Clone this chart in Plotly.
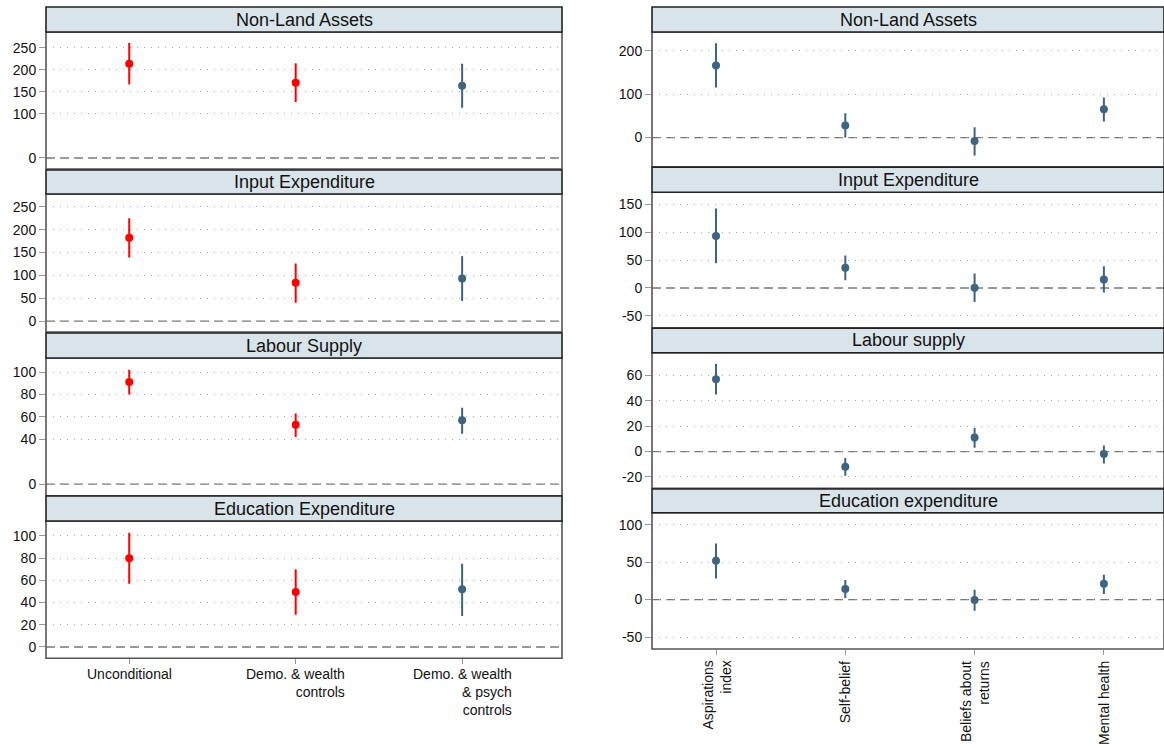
import plotly.graph_objects as go

# ---------------- data ----------------
left_categories = ["Unconditional", "Demo. & wealth<br>controls", "Demo. & wealth<br>& psych<br>controls"]
right_categories = ["Aspirations<br>index", "Self-belief", "Beliefs about<br>returns", "Mental health"]

left_titles = ["Non-Land Assets", "Input Expenditure", "Labour Supply", "Education Expenditure"]
right_titles = ["Non-Land Assets", "Input Expenditure", "Labour supply", "Education expenditure"]

# Left: estimates and 95% CI (Unconditional, Demo & wealth, Demo & wealth & psych)
left_nonland_est = [214, 171, 164]
left_nonland_lo = [167, 127, 114]
left_nonland_hi = [261, 215, 214]
left_input_est = [182, 84, 93]
left_input_lo = [139, 40, 44]
left_input_hi = [225, 126, 142]
left_labour_est = [91, 53, 57]
left_labour_lo = [80, 42, 45]
left_labour_hi = [102, 63, 68]
left_educ_est = [80, 49.5, 52]
left_educ_lo = [57, 29, 28]
left_educ_hi = [103, 70, 75]

# Right: estimates and 95% CI (Aspirations, Self-belief, Beliefs about returns, Mental health)
right_nonland_est = [166, 28, -8, 65]
right_nonland_lo = [115, 0, -41, 37]
right_nonland_hi = [217, 56, 24, 92]
right_input_est = [93, 36, 0.5, 15]
right_input_lo = [44, 14, -25, -8]
right_input_hi = [142, 58, 26, 39]
right_labour_est = [57, -12, 11, -2]
right_labour_lo = [45, -19, 3, -9.4]
right_labour_hi = [69, -5, 18.5, 4.7]
right_educ_est = [52, 14, -0.5, 21]
right_educ_lo = [28, 2, -15, 7.6]
right_educ_hi = [75, 26, 13, 33]

left_ticks = [[0, 100, 150, 200, 250], [0, 50, 100, 150, 200, 250], [0, 40, 60, 80, 100], [0, 20, 40, 60, 80, 100]]
right_ticks = [[0, 100, 200], [-50, 0, 50, 100, 150], [-20, 0, 20, 40, 60], [-50, 0, 50, 100]]

# ---------------- styling / layout ----------------
W, H = 1164, 750
RED = "#ff0000"
BLUE = "#3d6480"
STRIP_FILL = "#d9e4ea"
FONT = "Liberation Sans, Arial, sans-serif"

left_x_px = (46, 562)
right_x_px = (652, 1164)
left_plot_px = [(32, 169), (194, 332), (358, 495.7), (521, 658.3)]
left_strip_px = [(7, 32), (170, 194), (333, 358), (496, 521)]
right_plot_px = [(32, 166.7), (192.3, 327.7), (352.7, 488.3), (512.7, 649)]
right_strip_px = [(7, 32), (167.3, 192.3), (328.3, 352.7), (489, 512.7)]
left_yrange = [[-25, 286], [-24, 278], [-10.4, 112.5], [-10.2, 113.5]]
right_yrange = [[-67, 243], [-71, 171], [-29, 78], [-66, 116]]


def yd(p):
    return [1 - p[1] / H, 1 - p[0] / H]


fig = go.Figure()
layout = dict(width=W, height=H, margin=dict(l=0, r=0, t=0, b=0),
              paper_bgcolor="white", plot_bgcolor="white", showlegend=False,
              font=dict(family=FONT, size=14, color="#111"))
shapes = []
annotations = []

left_data = [(left_nonland_est, left_nonland_lo, left_nonland_hi),
             (left_input_est, left_input_lo, left_input_hi),
             (left_labour_est, left_labour_lo, left_labour_hi),
             (left_educ_est, left_educ_lo, left_educ_hi)]
right_data = [(right_nonland_est, right_nonland_lo, right_nonland_hi),
              (right_input_est, right_input_lo, right_input_hi),
              (right_labour_est, right_labour_lo, right_labour_hi),
              (right_educ_est, right_educ_lo, right_educ_hi)]


def add_panel(idx, est, lo, hi, colors, xpx, ppx, spx, yr, ticks, title, xrange, is_bottom):
    xa = "x" if idx == 1 else f"x{idx}"
    ya = "y" if idx == 1 else f"y{idx}"
    xs = list(range(1, len(est) + 1))
    for col in sorted(set(colors)):
        ii = [i for i, c in enumerate(colors) if c == col]
        fig.add_trace(go.Scatter(
            x=[xs[i] for i in ii], y=[est[i] for i in ii], mode="markers",
            marker=dict(color=col, size=8),
            error_y=dict(type="data", symmetric=False,
                         array=[hi[i] - est[i] for i in ii],
                         arrayminus=[est[i] - lo[i] for i in ii],
                         color=col, thickness=2, width=0),
            xaxis=xa, yaxis=ya, hoverinfo="skip"))
    layout[("xaxis" if idx == 1 else f"xaxis{idx}")] = dict(
        domain=[xpx[0] / W, xpx[1] / W], range=xrange, anchor=ya,
        tickvals=xs, showticklabels=False, showgrid=False, zeroline=False,
        ticks="outside" if is_bottom else "", ticklen=5, tickcolor="#999",
        showline=False, fixedrange=True)
    layout[("yaxis" if idx == 1 else f"yaxis{idx}")] = dict(
        domain=yd(ppx), range=yr, anchor=xa, tickvals=ticks,
        ticktext=[str(t) for t in ticks],
        ticks="outside", ticklen=6, tickcolor="#999", tickwidth=1,
        showgrid=True, gridcolor="#a8a8a8", griddash="1px,6px", gridwidth=1,
        zeroline=False, showline=False, tickfont=dict(size=14, family=FONT, color="#111"),
        fixedrange=True)
    shapes.append(dict(type="line", xref=f"{xa} domain", yref=ya, x0=0, x1=1, y0=0, y1=0,
                       line=dict(color="#777", width=1.3, dash="9px,5px"), layer="below"))
    shapes.append(dict(type="rect", xref="paper", yref="paper",
                       x0=xpx[0] / W, x1=xpx[1] / W, y0=yd(ppx)[0], y1=yd(ppx)[1],
                       line=dict(color="#555", width=1.6), layer="above"))
    shapes.append(dict(type="rect", xref="paper", yref="paper",
                       x0=xpx[0] / W, x1=xpx[1] / W, y0=yd(spx)[0], y1=yd(spx)[1],
                       fillcolor=STRIP_FILL, line=dict(color="#222", width=1.6), layer="above"))
    annotations.append(dict(text=title, xref="paper", yref="paper",
                            x=(xpx[0] + xpx[1]) / 2 / W, y=1 - (spx[0] + spx[1]) / 2 / H,
                            xanchor="center", yanchor="middle", showarrow=False,
                            font=dict(size=18, family=FONT, color="#111")))
    return xa


for k in range(4):
    est, lo, hi = left_data[k]
    xa = add_panel(k + 1, est, lo, hi, [RED, RED, BLUE], left_x_px, left_plot_px[k],
                   left_strip_px[k], left_yrange[k], left_ticks[k], left_titles[k],
                   [0.5, 3.6], k == 3)
    if k == 3:
        for i, lab in enumerate(left_categories):
            annotations.append(dict(text=lab, xref=xa, yref="paper", x=i + 1,
                                    y=1 - 664 / H, xanchor="center", yanchor="top",
                                    align="right", showarrow=False,
                                    font=dict(size=14, family=FONT, color="#111")))

for k in range(4):
    est, lo, hi = right_data[k]
    xa = add_panel(k + 5, est, lo, hi, [BLUE] * 4, right_x_px, right_plot_px[k],
                   right_strip_px[k], right_yrange[k], right_ticks[k], right_titles[k],
                   [0.505, 4.465], k == 3)
    if k == 3:
        for i, lab in enumerate(right_categories):
            annotations.append(dict(text=lab, xref=xa, yref="paper", x=i + 1,
                                    y=1 - 659 / H, xanchor="center", yanchor="top",
                                    align="right", textangle=-90, showarrow=False,
                                    font=dict(size=14, family=FONT, color="#111")))

layout["shapes"] = shapes
layout["annotations"] = annotations
fig.update_layout(**layout)
fig.write_html("out.html", config={"displayModeBar": False},
               post_script="document.body.style.margin='0';document.body.style.padding='0';")
